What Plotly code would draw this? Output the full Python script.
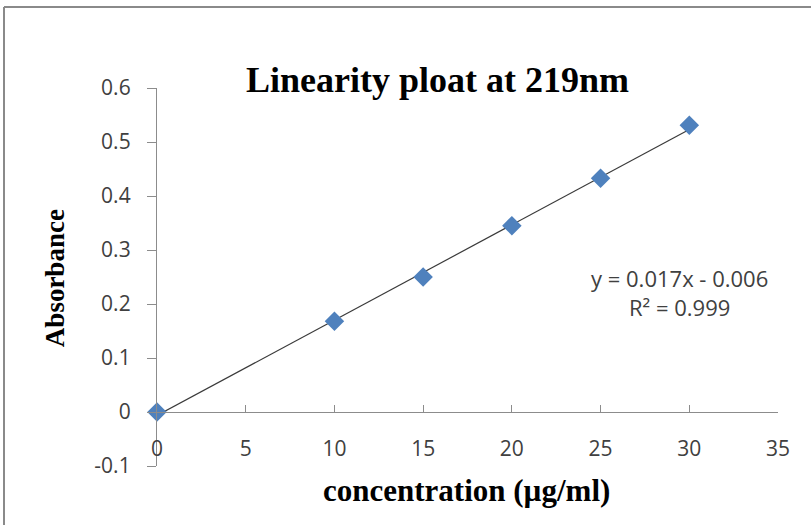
import numpy as np
import plotly.graph_objects as go

concentration = [0, 10, 15, 20, 25, 30]
absorbance = [0.0, 0.168, 0.25, 0.345, 0.433, 0.531]
x_ticks = [0, 5, 10, 15, 20, 25, 30, 35]
y_ticks = [-0.1, 0, 0.1, 0.2, 0.3, 0.4, 0.5, 0.6]
y_tick_labels = ["-0.1", "0", "0.1", "0.2", "0.3", "0.4", "0.5", "0.6"]
title_text = "Linearity ploat at 219nm"
x_title = "concentration (µg/ml)"
y_title = "Absorbance"
equation_text = "y = 0.017x - 0.006<br>R² = 0.999"

slope, intercept = np.polyfit(concentration, absorbance, 1)
fit_x = [min(concentration), max(concentration)]
fit_y = [slope * v + intercept for v in fit_x]

W, H = 811, 525
L, R, T, B = 157, 33, 88, 59
PW, PH = W - L - R, H - T - B
y_range = [-0.1, 0.6]
x_range = [0, 35]
x_axis_pos = (0 - y_range[0]) / (y_range[1] - y_range[0])

fig = go.Figure()
fig.add_trace(go.Scatter(x=fit_x, y=fit_y, mode="lines",
                         line=dict(color="#3a3a3a", width=1.2), hoverinfo="skip"))
fig.add_trace(go.Scatter(x=concentration, y=absorbance, mode="markers",
                         marker=dict(symbol="diamond", size=15, color="#4F81BD",
                                     line=dict(width=0)), cliponaxis=False))

sans = "Open Sans, Liberation Sans, sans-serif"
tick_font = dict(family=sans, size=21, color="#404040")
serif_bold = "Liberation Serif, Times New Roman, serif"

fig.update_layout(
    width=W, height=H,
    margin=dict(l=L, r=R, t=T, b=B, autoexpand=False),
    paper_bgcolor="white", plot_bgcolor="white",
    showlegend=False,
    xaxis=dict(range=x_range, tickvals=x_ticks, ticks="inside", ticklen=7,
               tickcolor="#8c8c8c", showline=True, linecolor="#8c8c8c", linewidth=1.3,
               showgrid=False, zeroline=False, anchor="free", position=x_axis_pos,
               tickfont=tick_font, automargin=False, ticklabelstandoff=18),
    yaxis=dict(range=y_range, tickvals=y_ticks, ticktext=y_tick_labels,
               ticks="outside", ticklen=9, tickcolor="#8c8c8c",
               showline=True, linecolor="#8c8c8c", linewidth=1.3,
               showgrid=False, zeroline=False, tickfont=tick_font,
               ticklabelstandoff=12, automargin=False),
    annotations=[
        dict(text="<b>" + title_text + "</b>", xref="paper", yref="paper",
             x=0.451, y=1 + 8 / PH, xanchor="center", yanchor="middle",
             showarrow=False, font=dict(family=serif_bold, size=36, color="black")),
        dict(text="<b>" + y_title + "</b>", xref="paper", yref="paper",
             x=-102 / PW, y=0.497, xanchor="center", yanchor="middle", textangle=-90,
             showarrow=False, font=dict(family=serif_bold, size=27, color="black")),
        dict(text="<b>" + x_title + "</b>", xref="paper", yref="paper",
             x=0.4976, y=-24 / PH, xanchor="center", yanchor="middle",
             showarrow=False, font=dict(family=serif_bold, size=31, color="black")),
        dict(text=equation_text, xref="paper", yref="paper",
             x=0.842, y=0.46, xanchor="center", yanchor="middle", align="center",
             showarrow=False, font=dict(family=sans, size=22, color="#404040")),
    ],
    shapes=[
        dict(type="line", xref="paper", yref="paper",
             x0=(4 - L) / PW, x1=(4 - L) / PW,
             y0=1 + (T - 7) / PH, y1=-(B + 5) / PH,
             line=dict(color="#8a8a8a", width=2)),
        dict(type="line", xref="paper", yref="paper",
             x0=(4 - L) / PW, x1=1 + (R + 5) / PW,
             y0=1 + (T - 7) / PH, y1=1 + (T - 7) / PH,
             line=dict(color="#8a8a8a", width=2)),
    ],
)

fig.write_html("out.html", config={"displayModeBar": False},
               post_script="document.body.style.margin='0';")
